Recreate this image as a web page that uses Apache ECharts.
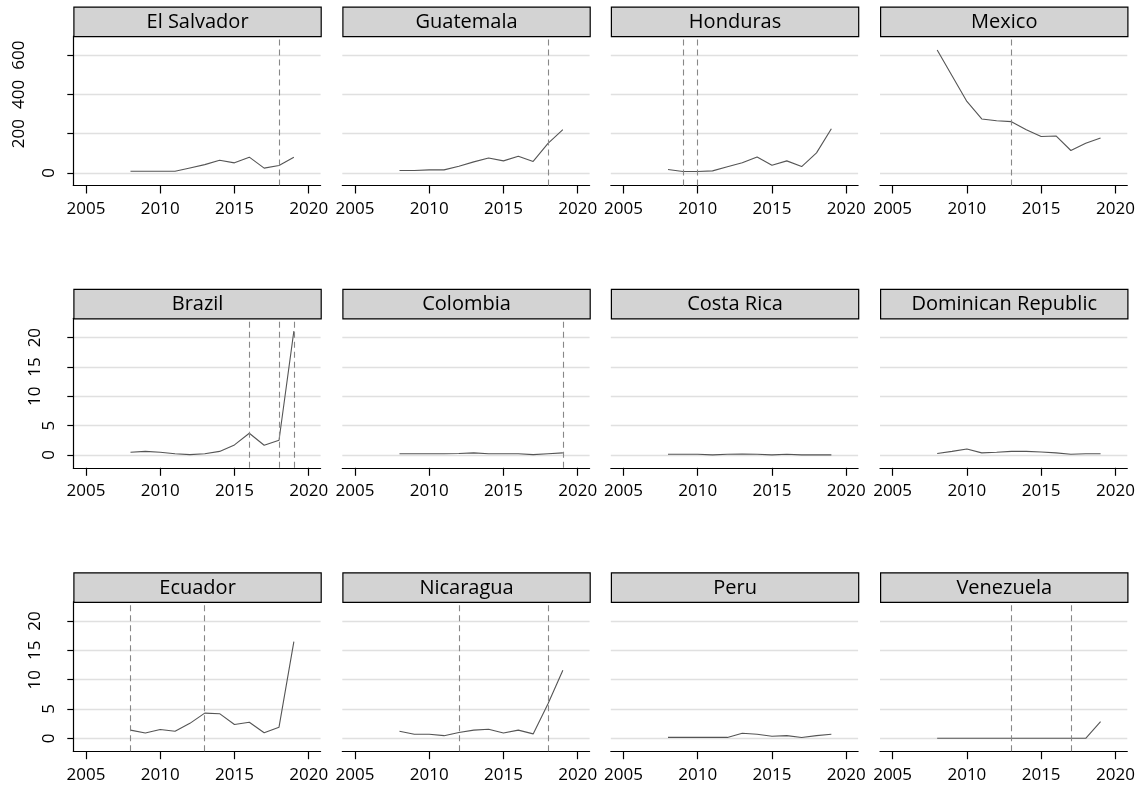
<!DOCTYPE html>
<html>
<head>
<meta charset="utf-8">
<script src="https://cdn.jsdelivr.net/npm/echarts@6/dist/echarts.min.js"></script>
<style>
  html, body { margin: 0; padding: 0; background: #ffffff; }
  #chart { width: 1141px; height: 789px; }
</style>
</head>
<body>
<div id="chart"></div>
<script>
// Yearly series, one small array per country
const years = [2008, 2009, 2010, 2011, 2012, 2013, 2014, 2015, 2016, 2017, 2018, 2019];

const countries = ['El Salvador', 'Guatemala', 'Honduras', 'Mexico',
                   'Brazil', 'Colombia', 'Costa Rica', 'Dominican Republic',
                   'Ecuador', 'Nicaragua', 'Peru', 'Venezuela'];

const elSalvador        = [8, 8, 8, 8, 25, 42, 64, 51, 80, 24, 37, 80];
const guatemala         = [12, 12, 15, 15, 34, 56, 76, 61, 85, 58, 150, 220];
const honduras          = [17, 7, 7, 10, 31, 51, 81, 39, 61, 32, 102, 225];
const mexico            = [627, 495, 364, 275, 266, 261, 220, 185, 188, 114, 151, 178];
const brazil            = [0.45, 0.6, 0.45, 0.2, 0.05, 0.2, 0.6, 1.7, 3.7, 1.65, 2.5, 21.1];
const colombia          = [0.2, 0.2, 0.2, 0.2, 0.25, 0.35, 0.2, 0.2, 0.2, 0.05, 0.2, 0.35];
const costaRica         = [0.1, 0.1, 0.1, 0.0, 0.1, 0.15, 0.1, 0.0, 0.1, 0.0, 0.0, 0.0];
const dominicanRepublic = [0.25, 0.6, 1.0, 0.35, 0.45, 0.6, 0.6, 0.5, 0.35, 0.1, 0.2, 0.2];
const ecuador           = [1.4, 0.9, 1.5, 1.2, 2.55, 4.3, 4.2, 2.35, 2.75, 0.95, 1.9, 16.5];
const nicaragua         = [1.2, 0.7, 0.7, 0.45, 1.0, 1.4, 1.55, 0.9, 1.4, 0.75, 5.9, 11.6];
const peru              = [0.15, 0.15, 0.15, 0.15, 0.15, 0.85, 0.7, 0.35, 0.45, 0.15, 0.45, 0.7];
const venezuela         = [0, 0, 0, 0, 0, 0, 0, 0, 0, 0, 0, 2.85];

const seriesValues = [elSalvador, guatemala, honduras, mexico,
                      brazil, colombia, costaRica, dominicanRepublic,
                      ecuador, nicaragua, peru, venezuela];

// Event years marked with dashed vertical lines
const eventYears = [[2018], [2018], [2009, 2010], [2013],
                    [2016, 2018, 2019], [2019], [], [],
                    [2008, 2013], [2012, 2018], [], [2013, 2017]];

// Tick labels
const xTicks = [2005, 2010, 2015, 2020];
const yTicksTop = [0, 200, 400, 600];
const yTicksLower = [0, 5, 10, 15, 20];

// Panel layout
const FONT = 'Open Sans';
const colLeft = [73.3, 342.3, 610.8, 880.0];
const rowTop = [36.0, 318.3, 601.7];
const plotW = 247.3;
const plotH = 149.5;
const stripH = 29.5;
const rowRange = [[-64.6, 698], [-2.2, 23.3], [-2.2, 23.3]];
const rowTicks = [yTicksTop, yTicksLower, yTicksLower];

const grids = [], xAxes = [], yAxes = [], series = [], graphics = [];

countries.forEach((name, i) => {
  const r = Math.floor(i / 4), c = i % 4;
  const left = colLeft[c], top = rowTop[r];
  grids.push({ left: left, top: top, width: plotW, height: plotH, outerBoundsMode: 'none' });

  xAxes.push({
    gridIndex: i, type: 'value', min: 2004.15, max: 2020.8,
    axisLine: { show: true, onZero: false, lineStyle: { color: '#000', width: 1.2 } },
    axisTick: { show: true, length: 8, customValues: xTicks, lineStyle: { color: '#000', width: 1.2 } },
    axisLabel: { show: true, customValues: xTicks, margin: 15, fontSize: 17, fontFamily: FONT, color: '#000',
                 hideOverlap: false, showMinLabel: true, showMaxLabel: true,
                 formatter: v => String(v) },
    splitLine: { show: false }
  });

  const first = c === 0;
  yAxes.push({
    gridIndex: i, type: 'value', min: rowRange[r][0], max: rowRange[r][1],
    axisLine: { show: first, onZero: false, lineStyle: { color: '#000', width: 1.2 } },
    axisTick: { show: first, length: 6, customValues: rowTicks[r], lineStyle: { color: '#000', width: 1.2 } },
    axisLabel: {
      show: first, customValues: rowTicks[r], rotate: 90, margin: 16,
      fontSize: 17, fontFamily: FONT, color: '#000', hideOverlap: false,
      showMinLabel: true, showMaxLabel: true,
      formatter: v => '{d' + String(v).length + '|' + v + '}',
      rich: {
        d1: { fontSize: 17, fontFamily: FONT, color: '#000', lineHeight: 17 },
        d2: { fontSize: 17, fontFamily: FONT, color: '#000', lineHeight: 45 },
        d3: { fontSize: 17, fontFamily: FONT, color: '#000', lineHeight: 77 }
      }
    },
    splitLine: { show: true, lineStyle: { color: '#e0e0e0', width: 1.4 } }
  });

  series.push({
    type: 'line', name: name, xAxisIndex: i, yAxisIndex: i,
    data: years.map((y, k) => [y, seriesValues[i][k]]),
    showSymbol: false, symbol: 'none',
    lineStyle: { color: '#555555', width: 1.1 },
    itemStyle: { color: '#555555' },
    animation: false, silent: true,
    markLine: {
      silent: true, symbol: 'none', animation: false,
      label: { show: false },
      lineStyle: { color: '#888888', width: 1.1, type: [6, 4] },
      data: eventYears[i].map(y => ({ xAxis: y }))
    }
  });

  // Panel header strip
  graphics.push({
    type: 'group', left: left, top: top - stripH,
    children: [
      { type: 'rect', shape: { x: 0, y: 0, width: plotW, height: stripH },
        style: { fill: '#d3d3d3', stroke: '#000', lineWidth: 1.2 } },
      { type: 'text', x: plotW / 2, y: stripH / 2 + 0.5,
        style: { text: name, fill: '#000', font: '20px "' + FONT + '"', align: 'center', verticalAlign: 'middle' } }
    ]
  });
});

const chart = echarts.init(document.getElementById('chart'), null, { renderer: 'canvas' });
chart.setOption({
  backgroundColor: '#ffffff',
  animation: false,
  grid: grids,
  xAxis: xAxes,
  yAxis: yAxes,
  series: series,
  graphic: graphics
});
</script>
</body>
</html>
